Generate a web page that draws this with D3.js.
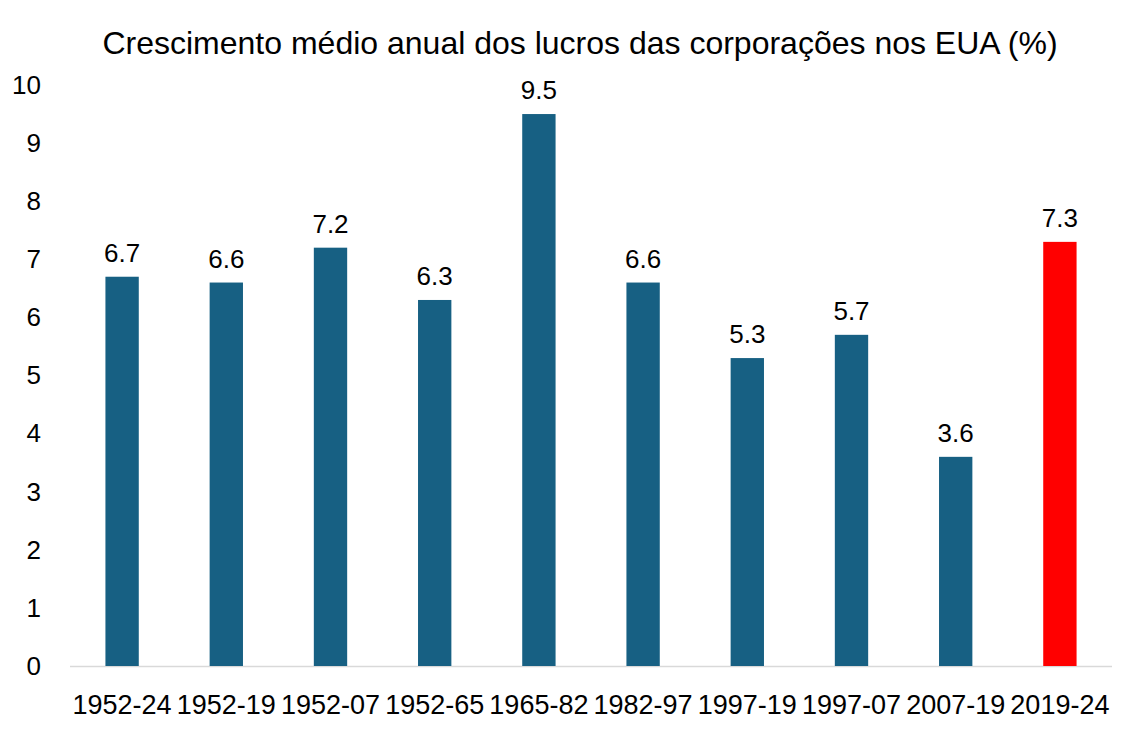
<!DOCTYPE html>
<html><head><meta charset="utf-8">
<script src="https://cdn.jsdelivr.net/npm/d3@7"></script>
<style>body{margin:0;background:#fff}svg{display:block}text{font-family:"Liberation Sans",Arial,sans-serif}</style>
</head><body>
<svg id="c" width="1129" height="734"></svg>
<script>
const categories = ["1952-24","1952-19","1952-07","1952-65","1965-82","1982-97","1997-19","1997-07","2007-19","2019-24"];
const values = [6.7,6.6,7.2,6.3,9.5,6.6,5.3,5.7,3.6,7.3];
const highlight = ["2019-24"];
const yTicks = [0,1,2,3,4,5,6,7,8,9,10];
const title = "Crescimento médio anual dos lucros das corporações nos EUA (%)";

const svg = d3.select("#c");
const m = {left:70, right:1112, top:85, bottom:666};
const x = d3.scaleBand().domain(categories).range([m.left, m.right]).paddingInner(0.68).paddingOuter(0.34);
const y = d3.scaleLinear().domain([0,10]).range([m.bottom, m.top]);

svg.append("text").attr("x",580).attr("y",54).attr("text-anchor","middle")
  .attr("font-size",32).attr("fill","#000").text(title);

const yAxis = svg.append("g").attr("transform",`translate(${m.left},0)`)
  .call(d3.axisLeft(y).tickValues(yTicks).tickSize(0).tickPadding(29).tickFormat(d3.format("d")));
yAxis.select(".domain").remove();
yAxis.selectAll("text").attr("font-size",26).attr("fill","#000").attr("font-family","'Liberation Sans',Arial,sans-serif");

svg.append("line").attr("x1",m.left).attr("x2",m.right).attr("y1",y(0)+0.5).attr("y2",y(0)+0.5)
  .attr("stroke","#d9d9d9").attr("stroke-width",1.5);

const xAxis = svg.append("g").attr("transform",`translate(0,${m.bottom})`)
  .call(d3.axisBottom(x).tickSize(0).tickPadding(29));
xAxis.select(".domain").remove();
xAxis.selectAll("text").attr("font-size",27).attr("fill","#000").attr("font-family","'Liberation Sans',Arial,sans-serif");

const data = categories.map((c,i)=>({c, v:values[i]}));
svg.selectAll("rect.bar").data(data).join("rect").attr("class","bar")
  .attr("x",d=>x(d.c)).attr("width",x.bandwidth())
  .attr("y",d=>y(d.v)).attr("height",d=>y(0)-y(d.v))
  .attr("fill",d=>highlight.includes(d.c)?"#ff0000":"#176083");

svg.selectAll("text.lbl").data(data).join("text").attr("class","lbl")
  .attr("x",d=>x(d.c)+x.bandwidth()/2).attr("y",d=>y(d.v)-15)
  .attr("text-anchor","middle").attr("font-size",26).attr("fill","#000")
  .text(d=>d3.format(".1f")(d.v));
</script>
</body></html>
